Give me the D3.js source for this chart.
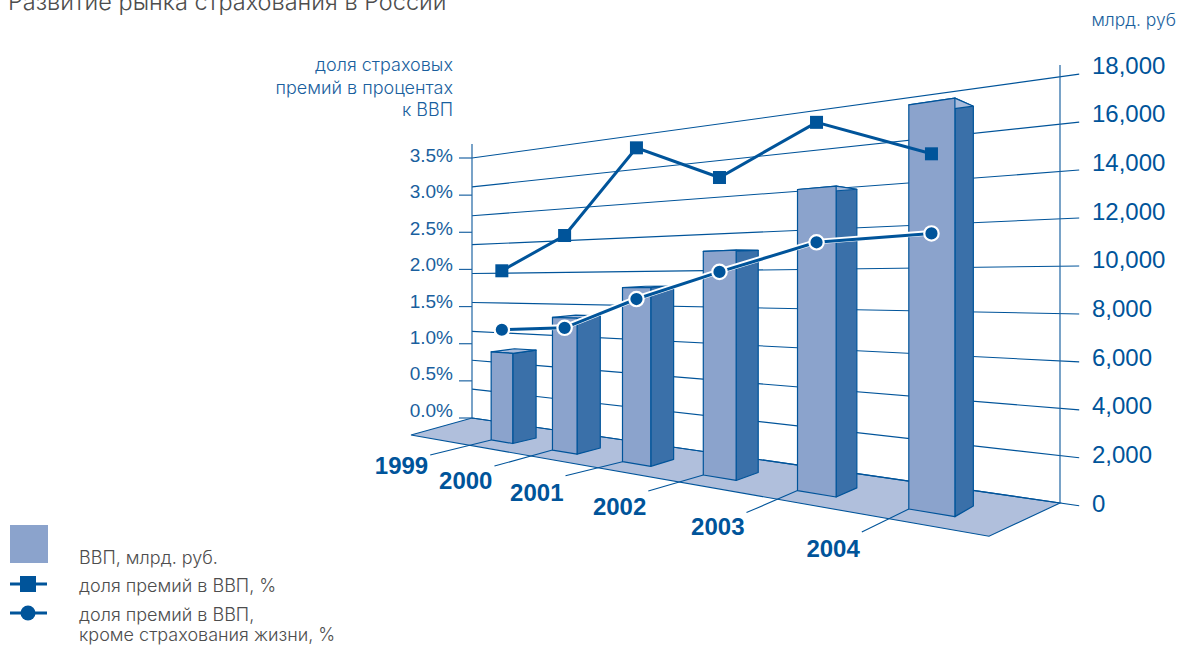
<!DOCTYPE html>
<html lang="ru">
<head>
<meta charset="utf-8">
<style>
  html, body { margin: 0; padding: 0; background: #fff; overflow: hidden; }
  svg { display: block; }
  text { font-family: "Liberation Sans", Arial, sans-serif; }
  text.light { font-family: Inter, "Liberation Sans", sans-serif; font-weight: 300; }
</style>
<script src="https://cdnjs.cloudflare.com/ajax/libs/d3/7.8.5/d3.min.js"></script>
</head>
<body>
<svg id="chart" width="1186" height="646"></svg>
<script>
// Chart data
const years = ["1999", "2000", "2001", "2002", "2003", "2004"];
const gdp = [5360, 7560, 9240, 11000, 13640, 16730];
const premiumShare = [2.0, 2.37, 3.22, 2.83, 3.22, 2.84];
const premiumShareNoLife = [1.31, 1.36, 1.68, 1.94, 2.18, 2.21];
const valueTicks = [0, 2000, 4000, 6000, 8000, 10000, 12000, 14000, 16000, 18000];
const shareTicks = [0, 0.5, 1, 1.5, 2, 2.5, 3, 3.5];
const titleText = "Развитие рынка страхования в России";
const unitText = "млрд. руб";
const shareAxisTitle = ["доля страховых", "премий в процентах", "к ВВП"];
const legendGdp = "ВВП, млрд. руб.";
const legendShare = "доля премий в ВВП, %";
const legendNoLife = ["доля премий в ВВП,", "кроме страхования жизни, %"];

const BLUE = "#00549a", LINE = "#1f65a3", FRONT = "#8ba3cc", SIDE = "#3a70a9",
      TOP = "#a9bcdc", FLOOR = "#b0bfdc", LABEL = "#1a5f9e", GREY = "#4d4d4d";

const svg = d3.select("#chart");

// Perspective of the floor: the unit square (s along the wall, d towards the viewer)
// is mapped on to this quadrilateral by a homography.
const corners = [[472, 418], [1060, 503], [989, 536.3], [411, 435]];
function homography([p0, p1, p2, p3]) {
  const dx1 = p1[0] - p2[0], dx2 = p3[0] - p2[0], dx3 = p0[0] - p1[0] + p2[0] - p3[0];
  const dy1 = p1[1] - p2[1], dy2 = p3[1] - p2[1], dy3 = p0[1] - p1[1] + p2[1] - p3[1];
  const den = dx1 * dy2 - dx2 * dy1;
  const g = (dx3 * dy2 - dx2 * dy3) / den, h = (dx1 * dy3 - dx3 * dy1) / den;
  const a = p1[0] - p0[0] + g * p1[0], b = p3[0] - p0[0] + h * p3[0];
  const d = p1[1] - p0[1] + g * p1[1], e = p3[1] - p0[1] + h * p3[1];
  return (s, t) => {
    const w = 1 + g * s + h * t;
    return [(a * s + b * t + p0[0]) / w, (d * s + e * t + p0[1]) / w];
  };
}
const floorAt = homography(corners);
// Vertical foreshortening grows towards the right-hand wall and towards the viewer.
const rise = (s, t) => 1 / (1 - 0.39 * s - 0.08 * t);
const project = (s, t, height) => {
  const [x, y] = floorAt(s, t);
  return [x, y - height * rise(s, t)];
};

// Scales
const bandS = d3.scaleBand().domain(years).range([0.1654, 0.94]).paddingInner(0.633).paddingOuter(0);
const DEPTH_FRONT = 0.70, DEPTH_BACK = 0.385;
// The rear edge of a bar leans slightly: outwards on the left of the floor, inwards on the right.
const rearS = s => s + 0.011 - 0.0165 * s;
const valueHeight = d3.scaleLinear().domain([0, 18000]).range([0, 260]);
const shareHeight = d3.scaleLinear().domain([0, 3.5]).range([0, 260]);
const valueLabelY = d3.scaleLinear().domain([0, 18000]).range([503, 65]);
const shareLabelY = d3.scaleLinear().domain([0, 3.5]).range([410, 155]);
const shareTickY = d3.scaleLinear().domain([0, 3.5]).range([418, 158]);
const fmt = d3.format(",");
const fmtShare = d3.format(".1f");
const poly = pts => "M" + pts.map(p => p.map(v => v.toFixed(2)).join(",")).join("L") + "Z";

// Title and axis captions
svg.append("text").attr("class", "light").attr("x", 8).attr("y", 10).attr("font-size", 23.5).attr("fill", GREY).text(titleText);
svg.append("text").attr("class", "light").attr("x", 1176).attr("y", 26).attr("text-anchor", "end").attr("font-size", 17.5)
  .attr("fill", LABEL).text(unitText);
svg.append("g").selectAll("text").data(shareAxisTitle).join("text").attr("class", "light")
  .attr("x", 453).attr("y", (d, i) => 71 + i * 22.5).attr("text-anchor", "end")
  .attr("font-size", 18).attr("fill", LABEL).text(d => d);

// Floor
svg.append("path").attr("d", poly(corners)).attr("fill", FLOOR).attr("stroke", BLUE).attr("stroke-width", 1.1);

// Walls and grid lines, each running on past the right-hand wall to its tick
const wallEnd = 1.0195;
const grid = svg.append("g").attr("stroke", BLUE).attr("stroke-width", 1.1);
grid.selectAll("line.grid").data(valueTicks).join("line").attr("class", "grid")
  .each(function (v) {
    const h = valueHeight(v);
    const a = project(0, 0, h), b = project(wallEnd, 0, h);
    d3.select(this).attr("x1", a[0]).attr("y1", a[1]).attr("x2", b[0]).attr("y2", b[1]);
  });
svg.append("line").attr("x1", 472).attr("x2", 472).attr("y1", 144).attr("y2", 418)
  .attr("stroke", LINE).attr("stroke-width", 1.2);
svg.append("line").attr("x1", 1060).attr("x2", 1060).attr("y1", 65).attr("y2", 503)
  .attr("stroke", LINE).attr("stroke-width", 1.2);
svg.append("g").selectAll("line").data(shareTicks).join("line")
  .attr("x1", 459).attr("x2", 472)
  .attr("y1", d => shareTickY(d)).attr("y2", d => shareTickY(d))
  .attr("stroke", LINE).attr("stroke-width", 1.2);

// Axis labels
svg.append("g").selectAll("text").data(valueTicks).join("text")
  .attr("x", 1092).attr("y", d => valueLabelY(d)).attr("dy", "0.36em")
  .attr("font-size", 24).attr("fill", BLUE).text(d => fmt(d));
svg.append("g").selectAll("text").data(shareTicks).join("text")
  .attr("x", 453).attr("y", d => shareLabelY(d)).attr("dy", "0.36em").attr("text-anchor", "end")
  .attr("font-size", 19).attr("fill", LABEL).text(d => fmtShare(d) + "%");

// Bars: side face, top face and front face of each block
const bars = svg.append("g").attr("stroke", BLUE).attr("stroke-width", 1.2).attr("stroke-linejoin", "round");
years.forEach((year, i) => {
  const s0 = bandS(year), s1 = s0 + bandS.bandwidth();
  const h = valueHeight(gdp[i]);
  const bar = bars.append("g");
  bar.append("path").attr("fill", SIDE).attr("d", poly([
    project(s1, DEPTH_FRONT, 0), project(rearS(s1), DEPTH_BACK, 0),
    project(rearS(s1), DEPTH_BACK, h), project(s1, DEPTH_FRONT, h)]));
  bar.append("path").attr("fill", TOP).attr("d", poly([
    project(s0, DEPTH_FRONT, h), project(s1, DEPTH_FRONT, h),
    project(rearS(s1), DEPTH_BACK, h), project(rearS(s0), DEPTH_BACK, h)]));
  bar.append("path").attr("fill", FRONT).attr("d", poly([
    project(s0, DEPTH_FRONT, 0), project(s1, DEPTH_FRONT, 0),
    project(s1, DEPTH_FRONT, h), project(s0, DEPTH_FRONT, h)]));
});

// Year labels with leader lines running to the front corner of each bar
const leaderOffset = [[-61, 15], [-58, 16], [-57, 14], [-55, 16], [-51, 22], [-47, 23]];
const labelDrop = [10, 14, 17, 15, 14, 16];
const yearLabels = svg.append("g");
years.forEach((year, i) => {
  const [x, y] = project(bandS(year), DEPTH_FRONT, 0);
  const sx = x + leaderOffset[i][0], sy = y + leaderOffset[i][1];
  yearLabels.append("line").attr("x1", sx).attr("y1", sy).attr("x2", x).attr("y2", y)
    .attr("stroke", BLUE).attr("stroke-width", 1.1);
  yearLabels.append("text").attr("x", sx - 2).attr("y", sy + labelDrop[i]).attr("dy", "0.36em")
    .attr("text-anchor", "end").attr("font-size", 24).attr("font-weight", 700)
    .attr("fill", BLUE).text(year);
});

// Share series sit on the front centre line of the bars
const seriesPoint = (share, i) => {
  const s = bandS(years[i]) + bandS.bandwidth() / 2;
  return project(s, DEPTH_FRONT, shareHeight(share));
};
const lineGen = d3.line();
const squarePts = premiumShare.map(seriesPoint);
const circlePts = premiumShareNoLife.map(seriesPoint);

svg.append("path").attr("d", lineGen(squarePts)).attr("fill", "none")
  .attr("stroke", BLUE).attr("stroke-width", 3);
svg.append("g").selectAll("rect").data(squarePts).join("rect")
  .attr("x", d => d[0] - 6.5).attr("y", d => d[1] - 6.5).attr("width", 13).attr("height", 13).attr("fill", BLUE);

svg.append("path").attr("d", lineGen(circlePts)).attr("fill", "none")
  .attr("stroke", "#fff").attr("stroke-width", 5.5).attr("transform", "translate(0,-0.7)");
svg.append("path").attr("d", lineGen(circlePts)).attr("fill", "none")
  .attr("stroke", BLUE).attr("stroke-width", 3);
svg.append("g").selectAll("circle").data(circlePts).join("circle")
  .attr("cx", d => d[0]).attr("cy", d => d[1]).attr("r", 7.2)
  .attr("fill", BLUE).attr("stroke", "#fff").attr("stroke-width", 2.2);

// Legend
const legend = svg.append("g");
legend.append("rect").attr("x", 10).attr("y", 525).attr("width", 38).attr("height", 38).attr("fill", FRONT);
legend.append("line").attr("x1", 10).attr("x2", 47).attr("y1", 584).attr("y2", 584).attr("stroke", BLUE).attr("stroke-width", 3);
legend.append("rect").attr("x", 20).attr("y", 576).attr("width", 16).attr("height", 16).attr("fill", BLUE);
legend.append("line").attr("x1", 10).attr("x2", 47).attr("y1", 613).attr("y2", 613).attr("stroke", BLUE).attr("stroke-width", 3);
legend.append("circle").attr("cx", 28).attr("cy", 613).attr("r", 7.5).attr("fill", BLUE);
const legendEntries = [[legendGdp, 564], [legendShare, 592], [legendNoLife[0], 621], [legendNoLife[1], 641]];
legend.selectAll("text").data(legendEntries).join("text").attr("class", "light")
  .attr("x", 79).attr("y", d => d[1]).attr("font-size", 18).attr("fill", GREY).text(d => d[0]);
</script>
</body>
</html>
